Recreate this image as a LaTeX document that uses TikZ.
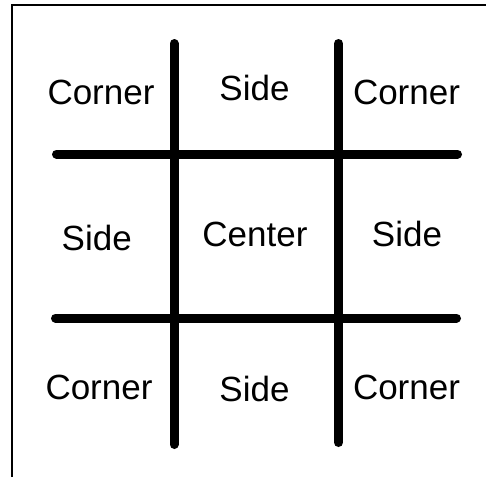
\documentclass[tikz,border=0pt]{standalone}
\usepackage{fontspec}
\setmainfont{Liberation Sans}
\usetikzlibrary{calc,positioning}

\begin{document}
\begin{tikzpicture}[x=1pt,y=-1pt,
    rotulo/.style={font=\fontsize{35}{40}\selectfont, anchor=base, inner sep=0pt},
    grade/.style={line width=9pt, line cap=round, black},
    moldura/.style={line width=2pt, black}]
  \useasboundingbox (0,0) rectangle (486,477);
  % frame
  \coordinate (fa) at (12,477);
  \coordinate (fb) at (12,5);
  \coordinate (fc) at (486,5);
  \draw[moldura] (fa) -- (fb) -- (fc);
  % grid
  \coordinate (v1a) at (174,43.5);   \coordinate (v1b) at (174,444.5);
  \coordinate (v2a) at (338.5,43.5); \coordinate (v2b) at (338.5,442.5);
  \coordinate (h1a) at (56.5,154);   \coordinate (h1b) at (457.5,154);
  \coordinate (h2a) at (55.5,318);   \coordinate (h2b) at (456.5,318);
  \draw[grade] (v1a) -- (v1b);
  \draw[grade] (v2a) -- (v2b);
  \draw[grade] (h1a) -- (h1b);
  \draw[grade] (h2a) -- (h2b);
  % labels
  \node[rotulo] (tl) at (101,104) {Corner};
  \node[rotulo] (tm) at (254.5,100) {Side};
  \node[rotulo] (tr) at (406.5,104) {Corner};
  \node[rotulo] (ml) at (96.7,250.7) {Side};
  \node[rotulo] (mm) at (255,246.7) {Center};
  \node[rotulo] (mr) at (407,246.7) {Side};
  \node[rotulo] (bl) at (99,399) {Corner};
  \node[rotulo] (bm) at (254.5,401.7) {Side};
  \node[rotulo] (br) at (406.5,399) {Corner};
\end{tikzpicture}
\end{document}
